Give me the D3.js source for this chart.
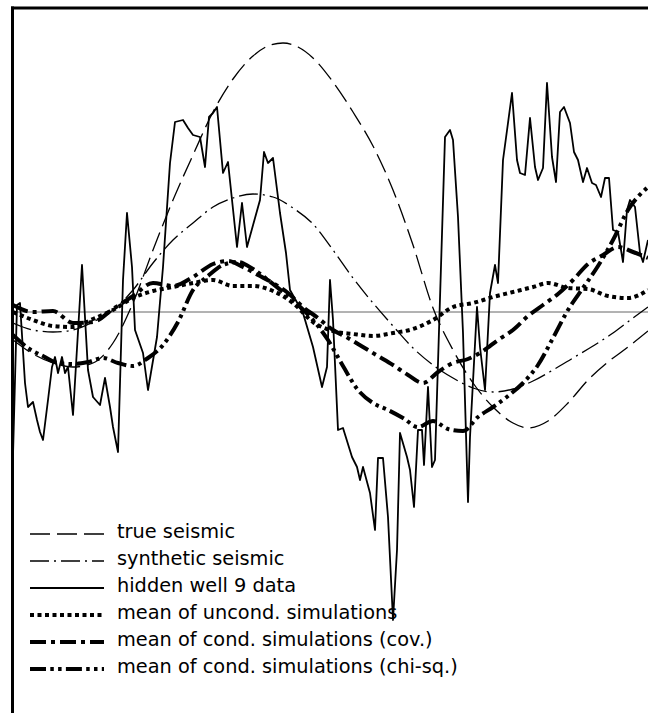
<!DOCTYPE html>
<html>
<head>
<meta charset="utf-8">
<script src="https://cdn.jsdelivr.net/npm/d3@7"></script>
<style>
  html, body { margin: 0; padding: 0; background: #fff; }
  svg { display: block; }
</style>
</head>
<body>
<div id="chart"></div>
<script>
// depth is in samples, amplitude in normalised units
const trueDepth = [0,4,8,12,16,20,24,28,32,36,40,44,48,51,54,57,60,64,68,72,76,80,84,88,92,96,100,103,107,111,115,119,123,127];
const trueAmp = [-0.28,-0.42,-0.51,-0.55,-0.51,-0.31,0.09,0.62,1.12,1.57,2.00,2.33,2.56,2.66,2.69,2.65,2.54,2.30,2.00,1.66,1.22,0.67,0.04,-0.38,-0.71,-0.95,-1.11,-1.16,-1.09,-0.91,-0.68,-0.50,-0.35,-0.19];

const synthDepth = [0,4,8,12,16,20,24,28,32,36,40,44,48,52,56,60,64,68,72,76,80,84,88,92,96,100,104,108,112,116,120,124,127];
const synthAmp = [-0.11,-0.18,-0.20,-0.18,-0.10,0.02,0.22,0.49,0.72,0.89,1.05,1.14,1.18,1.15,1.04,0.88,0.62,0.34,0.09,-0.14,-0.36,-0.53,-0.66,-0.76,-0.80,-0.77,-0.69,-0.58,-0.46,-0.34,-0.21,-0.06,0.05];

const wellDepth = [0.0,0.8,1.4,2.4,3.0,4.0,4.8,5.4,6.0,7.0,
  7.8,8.4,9.0,9.8,10.4,11.0,12.0,13.8,15.0,16.0,
  17.4,18.4,19.4,20.0,21.0,22.0,22.8,23.8,24.4,26.0,
  27.0,28.8,30.0,31.4,32.4,34.0,35.0,36.0,37.4,38.4,
  39.2,40.0,40.8,42.0,43.0,44.8,45.8,46.8,49.4,50.2,
  51.0,52.0,53.4,54.6,55.4,58.0,60.0,61.8,62.8,63.4,
  64.0,65.0,66.0,67.8,68.8,69.4,70.0,71.4,72.4,73.0,
  74.0,75.0,76.0,76.8,77.4,78.8,79.4,80.2,81.0,81.8,
  82.2,83.0,83.8,84.4,86.4,87.4,88.0,89.0,90.0,91.0,
  91.4,92.8,93.4,94.4,95.4,96.4,97.0,98.0,99.0,99.8,
  100.8,101.4,102.4,103.4,104.4,105.0,106.0,106.8,107.8,108.6,
  109.4,110.2,111.4,112.2,113.0,114.0,114.8,115.8,116.6,117.6,
  118.4,119.2,120.0,121.0,122.0,122.8,123.4,124.4,125.4,126.0,
  127.0];
const wellAmp = [-1.43,0.07,0.09,-0.71,-0.95,-0.90,-1.08,-1.20,-1.28,-0.88,
  -0.55,-0.45,-0.61,-0.45,-0.61,-0.55,-1.03,0.47,-0.58,-0.85,
  -0.93,-0.66,-0.95,-1.15,-1.40,0.32,0.99,0.45,-0.18,-0.41,
  -0.78,-0.25,0.45,1.49,1.90,1.92,1.84,1.77,1.75,1.45,
  1.95,1.99,2.05,1.39,1.50,0.65,1.09,0.65,1.12,1.60,
  1.49,1.54,0.99,0.59,0.22,-0.01,-0.35,-0.75,-0.55,0.32,
  -0.08,-1.18,-1.16,-1.45,-1.55,-1.68,-1.55,-1.81,-2.18,-1.46,
  -1.46,-2.05,-3.08,-2.38,-1.21,-1.45,-1.58,-1.95,-1.18,-1.18,
  -1.53,-0.75,-1.55,-1.48,1.75,1.82,1.72,0.95,-0.21,-1.90,
  -1.25,0.05,-0.35,-0.78,0.19,0.47,0.29,1.52,1.89,2.19,
  1.52,1.39,1.37,1.94,1.45,1.32,1.44,2.29,1.55,1.30,
  2.00,2.05,1.89,1.60,1.52,1.30,1.44,1.29,1.27,1.15,
  1.34,1.34,0.82,0.80,0.50,1.02,1.12,1.05,0.59,0.50,
  0.72];

const uncondDepth = [0,4,8,12,16,20,24,28,32,36,40,44,48,52,56,60,64,68,72,76,80,84,88,92,96,100,104,107,111,115,119,123,127];
const uncondAmp = [0.00,-0.08,-0.14,-0.15,-0.07,0.02,0.14,0.21,0.25,0.29,0.32,0.26,0.26,0.21,0.09,-0.10,-0.19,-0.22,-0.24,-0.21,-0.17,-0.08,0.05,0.09,0.15,0.20,0.25,0.29,0.24,0.23,0.16,0.14,0.22];

const covDepth = [0,4,8,12,16,20,24,28,32,36,40,43,46,49,52,55,58,61,64,67,70,73,76,79,82,85,88,91,94,97,100,103,106,109,112,115,118,121,124,127];
const covAmp = [0.07,0.00,0.01,-0.11,-0.10,0.03,0.16,0.29,0.26,0.35,0.48,0.51,0.45,0.37,0.29,0.19,0.05,-0.06,-0.18,-0.26,-0.35,-0.44,-0.53,-0.63,-0.71,-0.60,-0.51,-0.47,-0.39,-0.28,-0.18,-0.04,0.07,0.18,0.32,0.48,0.57,0.65,0.60,0.54];

const chiDepth = [0,3,6,9,12,15,18,21,24,27,30,33,36,39,42,45,48,51,54,57,60,63,66,69,72,75,78,81,84,87,90,93,96,99,102,105,108,111,114,117,120,123,127];
const chiAmp = [-0.23,-0.36,-0.44,-0.51,-0.52,-0.50,-0.46,-0.51,-0.54,-0.46,-0.33,-0.10,0.22,0.36,0.47,0.50,0.43,0.32,0.20,0.07,-0.08,-0.28,-0.54,-0.78,-0.91,-0.98,-1.06,-1.15,-1.09,-1.17,-1.19,-1.05,-0.95,-0.84,-0.71,-0.53,-0.26,0.02,0.24,0.46,0.72,1.02,1.25];

const legendLabels = [
  'true seismic',
  'synthetic seismic',
  'hidden well 9 data',
  'mean of uncond. simulations',
  'mean of cond. simulations (cov.)',
  'mean of cond. simulations (chi-sq.)'
];

const width = 648;
const height = 713;

const x = d3.scaleLinear().domain([0, 127]).range([13, 648]);
const y = d3.scaleLinear().domain([-4, 3]).range([712, 12]);

const series = [
  { depth: trueDepth, amp: trueAmp, width: 1.3, dash: '20,7', curve: d3.curveMonotoneX },
  { depth: synthDepth, amp: synthAmp, width: 1.3, dash: '19,5,2,5', curve: d3.curveMonotoneX },
  { depth: wellDepth, amp: wellAmp, width: 1.8, dash: null, curve: d3.curveLinear },
  { depth: uncondDepth, amp: uncondAmp, width: 4, dash: '4,3.5', curve: d3.curveMonotoneX },
  { depth: covDepth, amp: covAmp, width: 4, dash: '16,5,4,5', curve: d3.curveMonotoneX },
  { depth: chiDepth, amp: chiAmp, width: 4, dash: '16,4.3,3.5,4.3,3.5,4.3', curve: d3.curveMonotoneX }
];

const svg = d3.select('#chart')
  .append('svg')
  .attr('width', width)
  .attr('height', height);

svg.append('rect').attr('width', width).attr('height', height).attr('fill', '#fff');

svg.append('clipPath').attr('id', 'plot-clip')
  .append('rect')
  .attr('x', 13).attr('y', 9)
  .attr('width', width - 13).attr('height', height - 9);

const plot = svg.append('g').attr('clip-path', 'url(#plot-clip)');

// zero line
plot.append('line')
  .attr('x1', x(0)).attr('x2', x(127))
  .attr('y1', y(0)).attr('y2', y(0))
  .attr('stroke', '#666')
  .attr('stroke-width', 1);

series.forEach((s) => {
  const pts = d3.zip(s.depth, s.amp);
  const line = d3.line()
    .x((d) => x(d[0]))
    .y((d) => y(d[1]))
    .curve(s.curve);
  plot.append('path')
    .datum(pts)
    .attr('d', line)
    .attr('fill', 'none')
    .attr('stroke', '#000')
    .attr('stroke-width', s.width)
    .attr('stroke-dasharray', s.dash)
    .attr('stroke-linejoin', 'round');
});

// legend
const legend = svg.append('g');
const baseline = (i) => 538 + i * 27;

const labels = series.map((s, i) => {
  legend.append('line')
    .attr('x1', 30).attr('x2', 104)
    .attr('y1', baseline(i) - 4).attr('y2', baseline(i) - 4)
    .attr('stroke', '#000')
    .attr('stroke-width', s.width)
    .attr('stroke-dasharray', s.dash);
  return legend.append('text')
    .attr('x', 117)
    .attr('y', baseline(i))
    .attr('font-family', '"DejaVu Sans", sans-serif')
    .attr('font-size', 18)
    .attr('fill', '#000')
    .text(legendLabels[i]);
});

// fit the longest label to the width it has in the reference (117 -> 458)
const longest = labels[labels.length - 1].node().getComputedTextLength();
if (longest > 0) {
  const fs = 18 * 341 / longest;
  labels.forEach((t) => t.attr('font-size', fs));
}

// frame (cropped: only top and left edges visible)
svg.append('line')
  .attr('x1', 11).attr('x2', width)
  .attr('y1', 8).attr('y2', 8)
  .attr('stroke', '#000').attr('stroke-width', 3);
svg.append('line')
  .attr('x1', 12.5).attr('x2', 12.5)
  .attr('y1', 6.5).attr('y2', height)
  .attr('stroke', '#000').attr('stroke-width', 3);
</script>
</body>
</html>
